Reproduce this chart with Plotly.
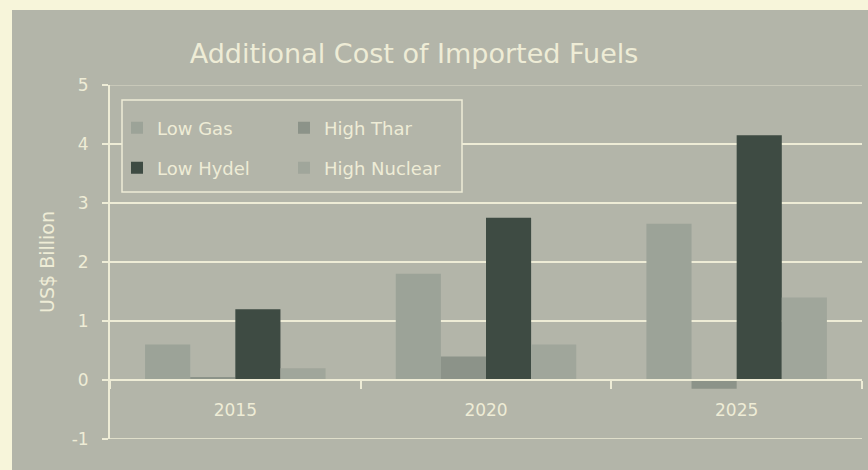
import plotly.graph_objects as go

# ---- data ----
years = ["2015", "2020", "2025"]
low_gas = [0.6, 1.8, 2.65]
high_thar = [0.05, 0.4, -0.15]
low_hydel = [1.2, 2.75, 4.15]
high_nuclear = [0.2, 0.6, 1.4]
y_tick_vals = [-1, 0, 1, 2, 3, 4, 5]
y_tick_text = ["-1", "0", "1", "2", "3", "4", "5"]
y_range = [-1, 5]

# ---- styles ----
BG = "#b3b5a9"
CREAM = "#f7f5da"
LIGHT = "#eeecd6"
FONT = "DejaVu Sans"

W, H = 868, 470
ML, MR, MT, MB = 110, 6, 85, 31
PW, PH = W - ML - MR, H - MT - MB


def px_x(x):
    return (x - ML) / PW


def px_y(y):
    return (H - MB - y) / PH


fig = go.Figure()
fig.add_trace(go.Bar(name="Low Gas", x=years, y=low_gas, marker_color="#9ca398",
                     marker_line_width=0, legend="legend"))
fig.add_trace(go.Bar(name="High Thar", x=years, y=high_thar, marker_color="#8c9389",
                     marker_line_width=0, legend="legend"))
fig.add_trace(go.Bar(name="Low Hydel", x=years, y=low_hydel, marker_color="#3e4b43",
                     marker_line_width=0, legend="legend2"))
fig.add_trace(go.Bar(name="High Nuclear", x=years, y=high_nuclear, marker_color="#a0a69b",
                     marker_line_width=0, legend="legend2"))

shapes = [
    # cream scan border (top and left)
    dict(type="rect", xref="paper", yref="paper", x0=px_x(0), x1=px_x(W), y0=px_y(0), y1=px_y(10),
         fillcolor=CREAM, line_width=0, layer="below"),
    dict(type="rect", xref="paper", yref="paper", x0=px_x(0), x1=px_x(12), y0=px_y(H), y1=px_y(0),
         fillcolor=CREAM, line_width=0, layer="below"),
    # outer grid lines at the range edges
    dict(type="line", xref="paper", yref="y", x0=0, x1=1, y0=y_range[0], y1=y_range[0],
         line=dict(color=LIGHT, width=1.5), layer="below"),
    dict(type="line", xref="paper", yref="y", x0=0, x1=1, y0=y_range[1], y1=y_range[1],
         line=dict(color="#cfcfbf", width=1.5), layer="below"),
    # legend box
    dict(type="rect", xref="paper", yref="paper", x0=px_x(122), x1=px_x(462), y0=px_y(192), y1=px_y(100),
         fillcolor=BG, line=dict(color=LIGHT, width=1.5), layer="above"),
]

legend_common = dict(orientation="h", bgcolor="rgba(0,0,0,0)", borderwidth=0,
                     font=dict(family=FONT, size=18, color=LIGHT),
                     xanchor="left", yanchor="middle", entrywidth=122, entrywidthmode="pixels",
                     itemclick=False)

fig.update_layout(
    width=W, height=H,
    margin=dict(l=ML, r=MR, t=MT, b=MB, autoexpand=False),
    paper_bgcolor=BG,
    plot_bgcolor="rgba(0,0,0,0)",
    font=dict(family=FONT, color=LIGHT),
    title=dict(text="Additional Cost of Imported Fuels", x=414 / W, xanchor="center",
               y=1 - 54 / H, yanchor="middle", font=dict(family=FONT, size=27, color=LIGHT)),
    barmode="group",
    bargap=0.28,
    bargroupgap=0,
    showlegend=True,
    legend=dict(x=px_x(117), y=px_y(128), **legend_common),
    legend2=dict(x=px_x(117), y=px_y(168), **legend_common),
    shapes=shapes,
    xaxis=dict(
        type="category", anchor="free", position=1 / 6,
        showline=True, linecolor=LIGHT, linewidth=2,
        ticks="outside", tickson="boundaries", ticklen=8, tickcolor=LIGHT, tickwidth=2,
        showgrid=False, tickfont=dict(family=FONT, size=17, color=LIGHT),
        ticklabelstandoff=15, automargin=False,
    ),
    yaxis=dict(
        range=y_range, tickvals=y_tick_vals, ticktext=y_tick_text,
        showgrid=True, gridcolor=LIGHT, gridwidth=1.5,
        zeroline=False, showline=True, linecolor=LIGHT, linewidth=2,
        ticks="outside", ticklen=6, tickcolor=LIGHT, tickwidth=2,
        tickfont=dict(family=FONT, size=17, color=LIGHT), ticklabelstandoff=10,
        title=dict(text="US$ Billion", font=dict(family=FONT, size=19, color=LIGHT), standoff=12),
        automargin=False,
    ),
)

fig.write_html("out.html", config={"displayModeBar": False},
               post_script="document.body.style.margin='0';")
